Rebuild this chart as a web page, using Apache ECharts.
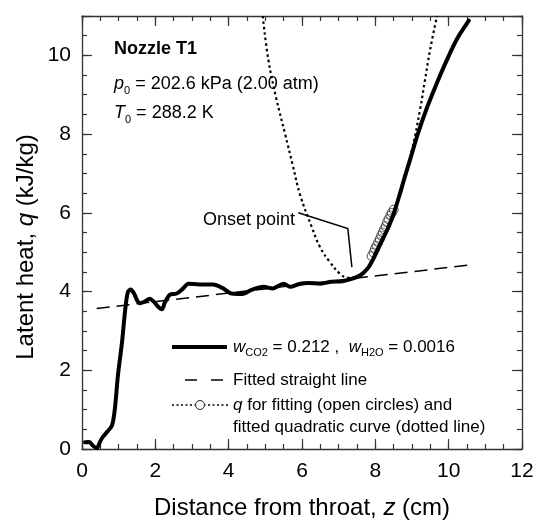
<!DOCTYPE html>
<html>
<head>
<meta charset="utf-8">
<script src="https://cdn.jsdelivr.net/npm/echarts@6/dist/echarts.min.js"></script>
<style>
  html, body { margin: 0; padding: 0; background: #fff; }
  #chart { width: 537px; height: 525px; }
</style>
</head>
<body>
<div id="chart"></div>
<script>
// Latent heat q (kJ/kg) along the nozzle, z in cm
const latentHeat = [
  [0.08,0.17],[0.2,0.18],[0.3,0.08],[0.4,0.02],[0.5,0.2],[0.58,0.32],[0.7,0.45],[0.82,0.6],
  [0.9,1.05],[0.98,1.87],[1.09,2.7],[1.18,3.55],[1.25,3.98],[1.33,4.05],[1.42,3.95],[1.5,3.78],
  [1.58,3.7],[1.72,3.75],[1.85,3.82],[1.95,3.75],[2.07,3.62],[2.18,3.55],[2.26,3.72],[2.4,3.92],
  [2.58,3.95],[2.76,4.08],[2.9,4.2],[3.2,4.18],[3.58,4.18],[3.85,4.08],[4.08,3.95],[4.37,3.94],
  [4.64,4.05],[4.95,4.12],[5.2,4.08],[5.5,4.2],[5.67,4.12],[5.95,4.2],[6.17,4.22],[6.5,4.2],
  [6.8,4.25],[7.1,4.26],[7.35,4.32],[7.6,4.42],[7.8,4.6],[7.9,4.75],[8.0,4.95],[8.18,5.3],
  [8.35,5.62],[8.5,5.98],[8.65,6.42],[8.8,6.9],[8.97,7.42],[9.15,7.98],[9.4,8.65],[9.68,9.3],
  [9.95,9.88],[10.23,10.42],[10.55,10.88]
];

// Straight line fitted to the plateau
const fittedLine = [[0.4,3.57],[10.53,4.67]];

// Quadratic fitted to the circled points
const fittedQuadratic = [
  [4.93,11.0],[5.08,9.9],[5.3,8.9],[5.54,8.0],[5.75,7.2],[5.95,6.45],[6.27,5.63],[6.49,5.13],
  [6.76,4.75],[7.04,4.45],[7.25,4.35],[7.5,4.38],[7.75,4.55],[8.0,4.9],[8.25,5.4],[8.5,6.0],
  [8.75,6.75],[9.0,7.6],[9.22,8.62],[9.35,9.35],[9.49,10.12],[9.68,11.0]
];

// Points used for the quadratic fit
const fitPoints = [
  [7.9,4.9],[7.95,4.99],[7.99,5.08],[8.03,5.16],[8.08,5.25],[8.12,5.33],[8.16,5.42],[8.2,5.5],
  [8.24,5.58],[8.28,5.66],[8.32,5.76],[8.36,5.84],[8.41,5.93],[8.45,6.0],[8.5,6.08]
];

// Arrow pointing at the onset point
const onsetArrow = [[5.9,6.0],[7.25,5.6],[7.36,4.62]];

const xTicks = [0, 12, 2, 0.5];   // min, max, major step, minor step
const yTicks = [0, 11, 2, 0.5];

const FONT = 'Liberation Sans, Arial, Helvetica, sans-serif';
const AXIS_COLOR = '#333';

function axisSet(dim, ticks, labelMargin) {
  const [min, max, major, minor] = ticks;
  const near = dim === 'x' ? 'bottom' : 'left';
  const far = dim === 'x' ? 'top' : 'right';
  const mk = (position, interval, len, line, labels) => ({
    type: 'value', min: min, max: max,
    position: position,
    interval: interval,
    splitLine: { show: false },
    axisLine: { show: line, onZero: false, lineStyle: { color: AXIS_COLOR, width: 1.3 } },
    axisTick: { show: true, inside: true, length: len, lineStyle: { color: AXIS_COLOR, width: 1.2 } },
    axisLabel: labels ? {
      show: true, margin: labelMargin, color: '#000', fontSize: 21, fontFamily: FONT,
      formatter: v => (Math.abs(v / major - Math.round(v / major)) < 1e-6 ? String(v) : '')
    } : { show: false }
  });
  return [
    mk(near, major, 10, true, true),
    mk(near, minor, 5, false, false),
    mk(far, major, 10, true, false),
    mk(far, minor, 5, false, false)
  ];
}

const xAxes = axisSet('x', xTicks, 12);
const yAxes = axisSet('y', yTicks, 11);

xAxes[0].name = 'Distance from throat, {i|z} (cm)';
xAxes[0].nameLocation = 'middle';
xAxes[0].nameGap = 47;
xAxes[0].nameTextStyle = {
  fontSize: 24, fontFamily: FONT, color: '#000',
  rich: { i: { fontSize: 24, fontFamily: FONT, fontStyle: 'italic', color: '#000' } }
};

const chart = echarts.init(document.getElementById('chart'), null, { renderer: 'canvas' });

const richSub = {
  i: { fontSize: 18, fontFamily: FONT, fontStyle: 'italic', color: '#000' },
  s: { fontSize: 11, fontFamily: FONT, color: '#000', padding: [13, 0, 0, 0] },
  n: { fontSize: 18, fontFamily: FONT, color: '#000' }
};
const richLegend = {
  i: { fontSize: 17, fontFamily: FONT, fontStyle: 'italic', color: '#000' },
  s: { fontSize: 11, fontFamily: FONT, color: '#000', padding: [12, 0, 0, 0] },
  n: { fontSize: 17, fontFamily: FONT, color: '#000' }
};

chart.setOption({
  animation: false,
  backgroundColor: '#fff',
  grid: { left: 82, right: 15, top: 16, bottom: 70 },
  xAxis: xAxes,
  yAxis: yAxes,
  series: [
    {
      name: 'fitted straight line', type: 'line', data: fittedLine,
      showSymbol: false, silent: true,
      lineStyle: { color: '#000', width: 1.5, type: [13, 7] }
    },
    {
      name: 'fitted quadratic', type: 'line', data: fittedQuadratic,
      showSymbol: false, smooth: 0.4, silent: true,
      lineStyle: { color: '#000', width: 2.2, type: [2.5, 3] }
    },
    {
      name: 'latent heat', type: 'line', data: latentHeat,
      showSymbol: false, smooth: 0.3, silent: true,
      lineStyle: { color: '#000', width: 4, cap: 'round', join: 'round' }
    },
    {
      name: 'fit points', type: 'scatter', data: fitPoints,
      symbol: 'circle', symbolSize: 9, silent: true,
      itemStyle: { color: 'rgba(255,255,255,0.2)', borderColor: '#222', borderWidth: 1 }
    },
    {
      name: 'onset arrow', type: 'lines', coordinateSystem: 'cartesian2d',
      polyline: true, silent: true,
      symbol: ['none', 'arrow'], symbolSize: 12,
      lineStyle: { color: '#000', width: 1.5, opacity: 1 },
      data: [{ coords: onsetArrow }]
    }
  ],
  graphic: [
    // axis title for q
    { type: 'text', x: 26, y: 247, rotation: Math.PI / 2, style: {
        text: 'Latent heat, {i|q} (kJ/kg)', align: 'center', verticalAlign: 'middle',
        fontSize: 24, fontFamily: FONT, fill: '#000',
        rich: { i: { fontSize: 24, fontFamily: FONT, fontStyle: 'italic', color: '#000' } } } },

    // run conditions
    { type: 'text', x: 114, y: 49, style: { text: 'Nozzle T1', fontSize: 18, fontWeight: 'bold', fontFamily: FONT, fill: '#000', verticalAlign: 'middle' } },
    { type: 'text', x: 114, y: 84, style: {
        text: '{i|p}{s|0}{n| = 202.6 kPa (2.00 atm)}', rich: richSub, verticalAlign: 'middle', fontFamily: FONT } },
    { type: 'text', x: 114, y: 113, style: {
        text: '{i|T}{s|0}{n| = 288.2 K}', rich: richSub, verticalAlign: 'middle', fontFamily: FONT } },
    { type: 'text', x: 203, y: 220, style: { text: 'Onset point', fontSize: 18, fontFamily: FONT, fill: '#000', verticalAlign: 'middle' } },

    // legend
    { type: 'line', shape: { x1: 172, y1: 347, x2: 227, y2: 347 }, style: { stroke: '#000', lineWidth: 4 } },
    { type: 'text', x: 233, y: 347, style: {
        text: '{i|w}{s|CO2}{n| = 0.212 ,  }{i|w}{s|H2O}{n| = 0.0016}', rich: richLegend, verticalAlign: 'middle', fontFamily: FONT } },
    { type: 'line', shape: { x1: 185, y1: 380, x2: 223, y2: 380 }, style: { stroke: '#000', lineWidth: 1.5, lineDash: [12, 14] } },
    { type: 'text', x: 233, y: 380, style: { text: 'Fitted straight line', fontSize: 17, fontFamily: FONT, fill: '#000', verticalAlign: 'middle' } },
    { type: 'line', shape: { x1: 172, y1: 405, x2: 228, y2: 405 }, style: { stroke: '#000', lineWidth: 1.6, lineDash: [2, 2.5] } },
    { type: 'circle', shape: { cx: 200, cy: 405, r: 4.5 }, style: { fill: '#fff', stroke: '#222', lineWidth: 1 } },
    { type: 'text', x: 233, y: 405, style: {
        text: '{i|q}{n| for fitting (open circles) and}', rich: richLegend, verticalAlign: 'middle', fontFamily: FONT } },
    { type: 'text', x: 233, y: 427, style: { text: 'fitted quadratic curve (dotted line)', fontSize: 17, fontFamily: FONT, fill: '#000', verticalAlign: 'middle' } }
  ]
});
</script>
</body>
</html>
